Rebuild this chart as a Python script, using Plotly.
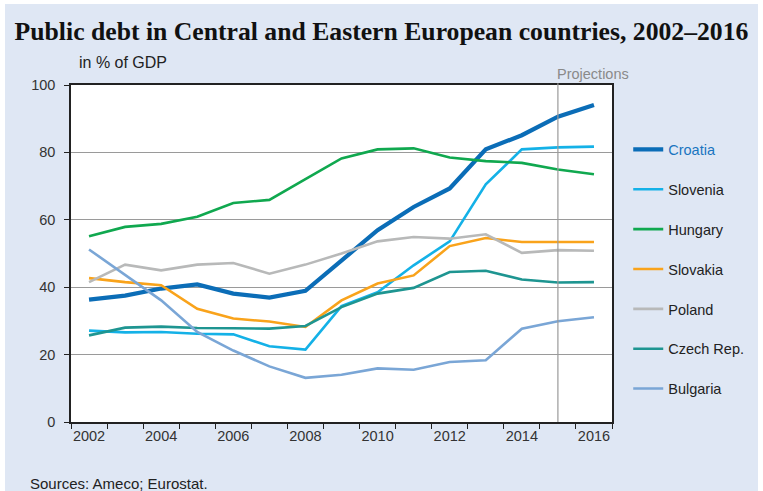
import plotly.graph_objects as go

years = list(range(2002, 2017))
croatia  = [36.3, 37.5, 39.6, 40.8, 38.1, 36.9, 38.9, 48.0, 56.9, 63.8, 69.3, 80.9, 85.1, 90.6, 94.1]
slovenia = [27.1, 26.6, 26.7, 26.2, 26.0, 22.5, 21.5, 34.4, 38.5, 46.5, 53.6, 70.5, 80.9, 81.5, 81.7]
hungary  = [55.1, 57.9, 58.8, 60.9, 65.0, 65.9, 72.1, 78.2, 80.9, 81.2, 78.5, 77.4, 76.9, 74.9, 73.5]
slovakia = [42.7, 41.5, 40.6, 33.6, 30.7, 29.8, 28.2, 36.1, 41.1, 43.5, 52.2, 54.6, 53.4, 53.3, 53.4]
poland   = [41.5, 46.7, 45.0, 46.7, 47.2, 44.0, 46.7, 50.0, 53.6, 54.9, 54.4, 55.7, 50.2, 51.0, 50.8]
czech    = [25.7, 28.0, 28.3, 27.9, 27.8, 27.7, 28.5, 34.1, 38.1, 39.8, 44.5, 44.9, 42.3, 41.4, 41.5]
bulgaria = [51.2, 43.7, 36.1, 26.7, 21.2, 16.5, 13.1, 14.0, 15.9, 15.5, 17.8, 18.3, 27.7, 29.9, 31.1]

series = [
    ("Croatia", croatia, "#0b6db7", 4.2),
    ("Slovenia", slovenia, "#14b1e7", 2.6),
    ("Hungary", hungary, "#10a84f", 2.6),
    ("Slovakia", slovakia, "#f9a31b", 2.6),
    ("Poland", poland, "#b8b9b9", 2.6),
    ("Czech Rep.", czech, "#1e9591", 2.6),
    ("Bulgaria", bulgaria, "#7aa6d6", 2.6),
]

x_labels = [str(y) for y in range(2002, 2017, 2)]
y_ticks = [0, 20, 40, 60, 80, 100]
projection_year = 2015

fig = go.Figure()
for name, vals, color, width in series:
    label = f'<span style="color:#1a75c0">{name}</span>' if name == "Croatia" else name
    fig.add_trace(go.Scatter(x=years, y=vals, mode="lines", name=label,
                             legendgroup=name,
                             line=dict(color=color, width=width)))

bg = "#dfe7f4"
fig.update_layout(
    width=763, height=491,
    paper_bgcolor="white", plot_bgcolor="white",
    margin=dict(l=71, r=151, t=85, b=69),
    font=dict(family="Liberation Sans, Arial, sans-serif", size=14, color="#222"),
    title=dict(text="<b>Public debt in Central and Eastern European countries, 2002–2016</b>",
               x=0.5, xanchor="center", y=1 - 31 / 491, yanchor="middle",
               font=dict(family="Liberation Serif, Times New Roman, serif", size=25.7, color="#111")),
    showlegend=True,
    legend=dict(x=1.03, xanchor="left", y=0.856, yanchor="top",
                bgcolor="rgba(0,0,0,0)", tracegroupgap=18, itemwidth=30,
                font=dict(size=14.5, color="#222")),
    xaxis=dict(range=[2001.5, 2016.5], tickmode="array", tickvals=[int(v) for v in x_labels],
               ticktext=x_labels, ticks="", showgrid=False, zeroline=False,
               showline=True, linecolor="#222", linewidth=1.5, mirror=True,
               tickfont=dict(size=14.5, color="#333"),
               minor=dict(tickmode="linear", tick0=2001.5, dtick=1, ticks="outside",
                          ticklen=5, tickcolor="#222", tickwidth=1, showgrid=False)),
    yaxis=dict(range=[0, 100], tickmode="array", tickvals=y_ticks, ticks="outside",
               ticklen=5, tickcolor="#222", showgrid=True, gridcolor="#9a9a9a", gridwidth=1,
               zeroline=False, showline=True, linecolor="#222", linewidth=1.5, mirror=True,
               ticklabelstandoff=6,
               tickfont=dict(size=14.5, color="#333")),
)

# light-blue page background with thin white border (as in the reference)
fig.add_shape(type="rect", xref="paper", yref="paper", layer="below",
              x0=(5 - 71) / 541, x1=(758 - 71) / 541, y0=(422 - 492) / 337, y1=(422 - 4) / 337,
              line=dict(width=0), fillcolor=bg)
fig.add_shape(type="rect", xref="paper", yref="paper", layer="below",
              x0=0, x1=1, y0=0, y1=1, line=dict(width=0), fillcolor="white")

fig.add_shape(type="line", xref="x", yref="paper", x0=projection_year, x1=projection_year,
              y0=0, y1=1.005, line=dict(color="#9a9a9a", width=1.2))
fig.add_annotation(text="Projections", xref="x", yref="paper", x=projection_year,
                   y=(422 - 74) / 337, xanchor="left", yanchor="middle", xshift=-3,
                   showarrow=False, font=dict(size=14.5, color="#8a8a8a"))
fig.add_annotation(text="in % of GDP", xref="paper", yref="paper", x=(77 - 71) / 541,
                   y=(422 - 63) / 337, xanchor="left", yanchor="middle", showarrow=False,
                   font=dict(size=16, color="#222"))
fig.add_annotation(text="Sources: Ameco; Eurostat.", xref="paper", yref="paper",
                   x=(28 - 71) / 541, y=(422 - 483) / 337, xanchor="left", yanchor="middle",
                   showarrow=False, font=dict(size=15, color="#222"))

fig.write_html("out.html", config={"displayModeBar": False},
               post_script="document.body.style.margin='0';")
